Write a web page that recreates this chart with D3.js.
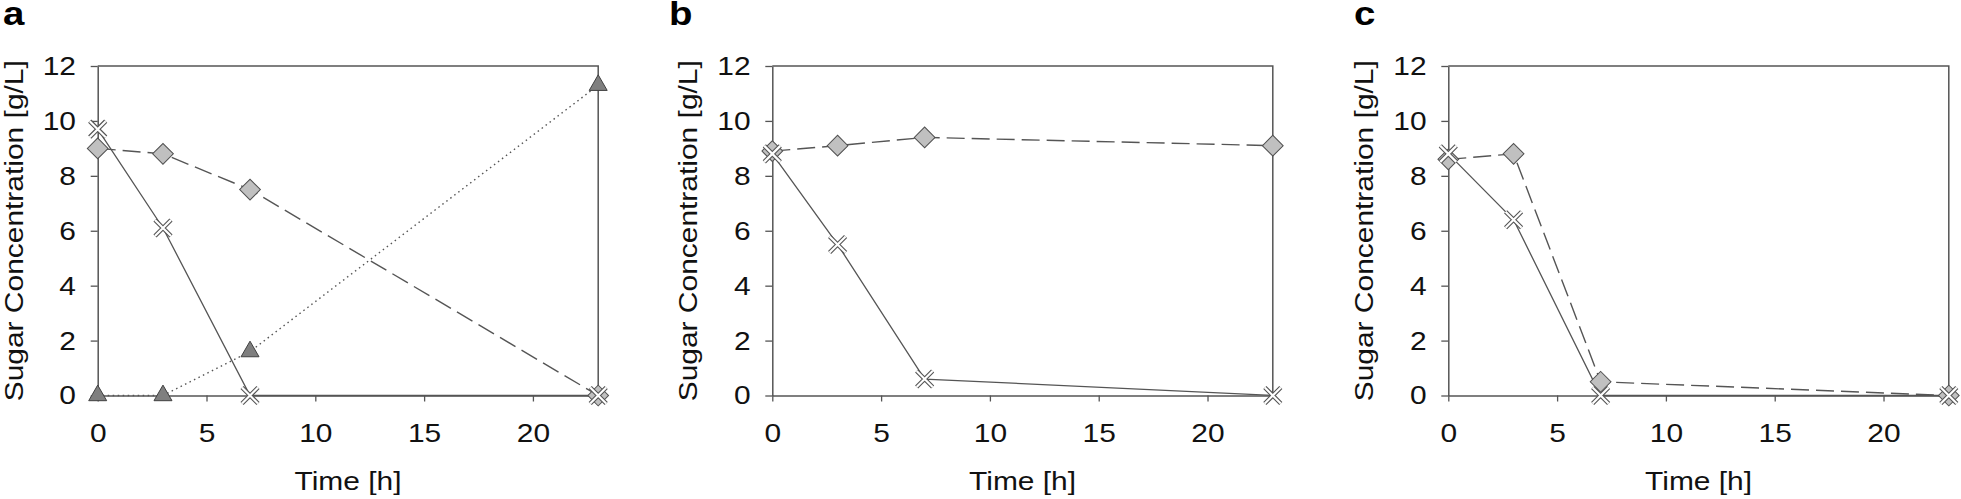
<!DOCTYPE html>
<html>
<head>
<meta charset="utf-8">
<script src="https://cdn.jsdelivr.net/npm/d3@7"></script>
<style>
  body { margin: 0; background: #fff; }
  text { font-family: "Liberation Sans", Arial, sans-serif; fill: #111; }
</style>
</head>
<body>
<svg id="chart" width="1961" height="499"></svg>
<script>
// sampling times (h)
var time = [0, 3, 7, 23];
var xTicks = [0, 5, 10, 15, 20];
var yTicks = [0, 2, 4, 6, 8, 10, 12];
var panelNames = ["a", "b", "c"];

// panel a
var aCross = [9.7, 6.1, 0, 0];
var aDiamond = [9.0, 8.8, 7.5, 0];
var aTriangle = [0, 0, 1.6, 11.3];
// panel b
var bCross = [8.8, 5.5, 0.6, 0];
var bDiamond = [8.9, 9.1, 9.4, 9.1];
// panel c
var cCross = [8.8, 6.4, 0, 0];
var cDiamond = [8.6, 8.8, 0.5, 0];

var panels = [
    { cross: aCross, diamond: aDiamond, triangle: aTriangle },
    { cross: bCross, diamond: bDiamond },
    { cross: cCross, diamond: cDiamond }
];

var svg = d3.select("#chart");
var lineColor = "#555";
var sx = 1.13;          // glyphs in the figure are a bit wider than Arial
var fontSize = 26.5;
var plotW = 500.5, plotTop = 66, plotBottom = 395.5;
var plotH = plotBottom - plotTop;
var left = [97.7, 772.3, 1448.3];
var labelX = [3, 669, 1354];

var x = d3.scaleLinear().domain([0, 23]).range([0, plotW]);
var y = d3.scaleLinear().domain([0, 12]).range([plotH, 0]);

var line = d3.line()
    .x(function (d) { return x(d[0]); })
    .y(function (d) { return y(d[1]); });

panels.forEach(function (p, k) {
    var g = svg.append("g").attr("transform", "translate(" + left[k] + "," + plotTop + ")");

    // panel letter
    svg.append("text")
        .attr("transform", "translate(" + labelX[k] + ",25) scale(" + sx + ",1)")
        .attr("font-size", "34px")
        .attr("font-weight", "bold")
        .style("fill", "#000")
        .text(panelNames[k]);

    // frame top / right
    g.append("path")
        .attr("d", "M0,0H" + plotW + "V" + plotH)
        .attr("fill", "none")
        .attr("stroke", lineColor)
        .attr("stroke-width", 1.5);

    var yAxis = g.append("g")
        .call(d3.axisLeft(y).tickValues(yTicks).tickSize(7).tickPadding(12.2).tickSizeOuter(0));
    var xAxis = g.append("g").attr("transform", "translate(0," + plotH + ")")
        .call(d3.axisBottom(x).tickValues(xTicks).tickSize(6).tickPadding(22).tickSizeOuter(0));

    [yAxis, xAxis].forEach(function (ax) {
        ax.select(".domain").attr("stroke", lineColor).attr("stroke-width", 1.5);
        ax.selectAll(".tick line").attr("stroke", lineColor).attr("stroke-width", 1.3);
        ax.selectAll("text")
            .attr("font-size", fontSize + "px")
            .attr("font-family", "Liberation Sans, Arial, sans-serif")
            .style("fill", "#111")
            .attr("transform", "scale(" + sx + ",1)");
    });

    // axis titles
    g.append("text")
        .attr("transform", "translate(" + plotW / 2 + "," + (plotH + 94) + ") scale(" + sx + ",1)")
        .attr("text-anchor", "middle")
        .attr("font-size", fontSize + "px")
        .text("Time [h]");
    g.append("text")
        .attr("transform", "translate(-75," + plotH / 2 + ") rotate(-90) scale(" + sx + ",1)")
        .attr("text-anchor", "middle")
        .attr("font-size", fontSize + "px")
        .text("Sugar Concentration [g/L]");

    function pts(vals) {
        return vals.map(function (v, i) { return [time[i], v]; });
    }

    // lines
    if (p.triangle) {
        g.append("path").attr("d", line(pts(p.triangle)))
            .attr("fill", "none").attr("stroke", lineColor)
            .attr("stroke-width", 1.4).attr("stroke-dasharray", "1.5,3.5");
    }
    g.append("path").attr("d", line(pts(p.diamond)))
        .attr("fill", "none").attr("stroke", lineColor)
        .attr("stroke-width", 1.4).attr("stroke-dasharray", "18,7");
    g.append("path").attr("d", line(pts(p.cross)))
        .attr("fill", "none").attr("stroke", lineColor)
        .attr("stroke-width", 1.3);

    // markers
    if (p.triangle) {
        g.selectAll(".tri").data(pts(p.triangle)).enter()
            .append("path")
            .attr("d", d3.symbol(d3.symbolTriangle, 140))
            .attr("transform", function (d) { return "translate(" + x(d[0]) + "," + y(d[1]) + ")"; })
            .attr("fill", "#7f7f7f")
            .attr("stroke", "#404040")
            .attr("stroke-width", 1);
    }
    g.selectAll(".dia").data(pts(p.diamond)).enter()
        .append("path")
        .attr("d", d3.symbol(d3.symbolSquare, 215))
        .attr("transform", function (d) { return "translate(" + x(d[0]) + "," + y(d[1]) + ") rotate(45)"; })
        .attr("fill", "#c0c0c0")
        .attr("stroke", "#505050")
        .attr("stroke-width", 1);

    var crossPath = "M-8,-8L8,8M-8,8L8,-8";
    var crosses = g.selectAll(".crs").data(pts(p.cross)).enter()
        .append("g")
        .attr("transform", function (d) { return "translate(" + x(d[0]) + "," + y(d[1]) + ")"; });
    crosses.append("path").attr("d", crossPath)
        .attr("stroke", "#555").attr("stroke-width", 4.4).attr("fill", "none");
    crosses.append("path").attr("d", crossPath)
        .attr("stroke", "#fff").attr("stroke-width", 2.2).attr("fill", "none");
});
</script>
</body>
</html>
